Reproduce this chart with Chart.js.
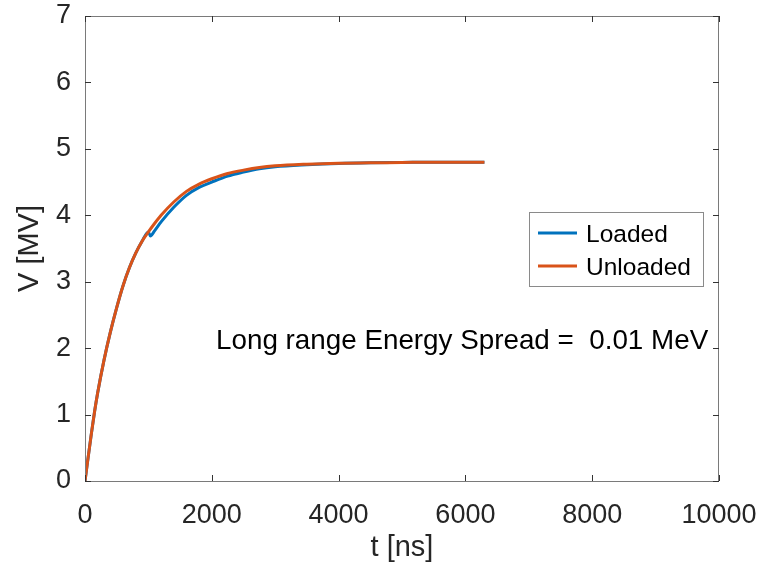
<!DOCTYPE html>
<html>
<head>
<meta charset="utf-8">
<script src="https://cdn.jsdelivr.net/npm/chart.js@4.4.1/dist/chart.umd.min.js"></script>
<style>
  html, body { margin: 0; padding: 0; background: #fff; }
</style>
</head>
<body>
<canvas id="cav" width="763" height="567"></canvas>
<script>
// ---------- data ----------
const unloadedT = [0, 50, 100, 150, 200, 300, 400, 500, 600, 700, 800, 900, 1000, 1100, 1200, 1400, 1600, 1800, 2000, 2250, 2500, 2750, 3000, 3500, 4000, 4500, 5000, 5500, 6000, 6300];
const unloadedV = [0, 0.36, 0.71, 1.04, 1.33, 1.82, 2.24, 2.61, 2.94, 3.21, 3.43, 3.61, 3.75, 3.88, 4.00, 4.20, 4.36, 4.47, 4.55, 4.63, 4.68, 4.72, 4.745, 4.77, 4.785, 4.79, 4.795, 4.80, 4.80, 4.80];

const loadedT = [0, 50, 100, 150, 200, 300, 400, 500, 600, 700, 800, 900, 1000, 1030, 1100, 1200, 1400, 1600, 1800, 2000, 2250, 2500, 2750, 3000, 3500, 4000, 4500, 5000, 5500, 6000, 6300];
const loadedV = [0, 0.36, 0.71, 1.04, 1.33, 1.82, 2.24, 2.61, 2.94, 3.21, 3.43, 3.61, 3.75, 3.69, 3.77, 3.90, 4.12, 4.30, 4.42, 4.50, 4.59, 4.65, 4.70, 4.73, 4.76, 4.78, 4.79, 4.795, 4.80, 4.80, 4.80];

const xTicks = [0, 2000, 4000, 6000, 8000, 10000];
const yTicks = [0, 1, 2, 3, 4, 5, 6, 7];
const seriesNames = ["Loaded", "Unloaded"];
const seriesColors = ["#0072BD", "#D95319"];
const noteText = "Long range Energy Spread =  0.01 MeV";

const FONT = "'Liberation Sans', Arial, Helvetica, sans-serif";
const TXT = "#262626";

const toPts = (xs, ys) => xs.map((x, i) => ({ x: x, y: ys[i] }));

// ---------- box, inward ticks, legend and note ----------
const matlabLook = {
  id: "matlabLook",
  afterDatasetsDraw(chart) {
    const { ctx, chartArea: a, scales } = chart;
    const tl = 6;
    ctx.save();
    ctx.strokeStyle = "#7a7a7a";
    ctx.lineWidth = 1;
    ctx.strokeRect(a.left + 0.5, a.top + 0.5, a.right - a.left - 1, a.bottom - a.top);
    ctx.strokeStyle = "#333";
    ctx.beginPath();
    xTicks.forEach(v => {
      const px = Math.round(scales.x.getPixelForValue(v)) + 0.5;
      ctx.moveTo(px, a.bottom); ctx.lineTo(px, a.bottom - tl);
      ctx.moveTo(px, a.top); ctx.lineTo(px, a.top + tl);
    });
    yTicks.forEach(v => {
      const py = Math.round(scales.y.getPixelForValue(v)) + 0.5;
      ctx.moveTo(a.left, py); ctx.lineTo(a.left + tl, py);
      ctx.moveTo(a.right, py); ctx.lineTo(a.right - tl, py);
    });
    ctx.stroke();

    // legend
    const lx = 529.5, ly = 212.5, lw = 174, lh = 74;
    ctx.fillStyle = "#fff";
    ctx.fillRect(lx, ly, lw, lh);
    ctx.strokeStyle = "#8a8a8a";
    ctx.strokeRect(lx, ly, lw, lh);
    ctx.font = "24.5px " + FONT;
    ctx.textBaseline = "alphabetic";
    ctx.textAlign = "left";
    const rows = [233, 266];
    seriesNames.forEach((name, i) => {
      ctx.strokeStyle = seriesColors[i];
      ctx.lineWidth = 3;
      ctx.beginPath();
      ctx.moveTo(538, rows[i]); ctx.lineTo(577, rows[i]);
      ctx.stroke();
      ctx.fillStyle = "#000";
      ctx.fillText(name, 586, rows[i] + 9);
    });

    // note
    ctx.font = "27.8px " + FONT;
    ctx.fillStyle = "#000";
    ctx.fillText(noteText, 216, 349);
    ctx.restore();
  }
};

new Chart(document.getElementById("cav"), {
  type: "scatter",
  data: {
    datasets: [
      { label: seriesNames[0], data: toPts(loadedT, loadedV), borderColor: seriesColors[0], backgroundColor: seriesColors[0],
        showLine: true, pointRadius: 0, borderWidth: 3, cubicInterpolationMode: "monotone", order: 2 },
      { label: seriesNames[1], data: toPts(unloadedT, unloadedV), borderColor: seriesColors[1], backgroundColor: seriesColors[1],
        showLine: true, pointRadius: 0, borderWidth: 3, cubicInterpolationMode: "monotone", order: 1 }
    ]
  },
  options: {
    responsive: false,
    animation: false,
    devicePixelRatio: 1,
    layout: { padding: { top: 16, right: 44, left: 0, bottom: 0 } },
    plugins: { legend: { display: false }, tooltip: { enabled: false } },
    scales: {
      x: {
        type: "linear", min: 0, max: 10000,
        afterBuildTicks: s => { s.ticks = xTicks.map(v => ({ value: v })); },
        afterFit: s => { s.height = 86; s.paddingLeft = 0; s.paddingRight = 0; },
        grid: { display: false, drawTicks: false },
        border: { display: false },
        ticks: { font: { size: 27, family: FONT }, color: TXT, padding: 18, maxRotation: 0, callback: v => String(v) },
        title: { display: true, text: "t [ns]", font: { size: 29, family: FONT }, color: TXT, padding: { top: 0, bottom: 2 } }
      },
      y: {
        type: "linear", min: 0, max: 7,
        afterBuildTicks: s => { s.ticks = yTicks.map(v => ({ value: v })); },
        afterFit: s => { s.width = 85; s.paddingTop = 0; s.paddingBottom = 0; },
        grid: { display: false, drawTicks: false },
        border: { display: false },
        ticks: { font: { size: 27, family: FONT }, color: TXT, padding: 14, callback: v => String(v) },
        title: { display: true, text: "V [MV]", font: { size: 29, family: FONT }, color: TXT, padding: { top: 13, bottom: 0 } }
      }
    }
  },
  plugins: [matlabLook]
});
</script>
</body>
</html>
